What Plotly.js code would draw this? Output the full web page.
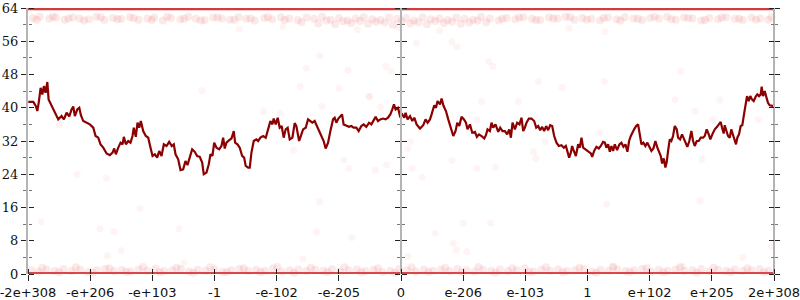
<!DOCTYPE html>
<html>
<head>
<meta charset="utf-8">
<script src="https://cdn.plot.ly/plotly-3.0.1.min.js"></script>
<style>html,body{margin:0;padding:0;background:#fff}#chart{width:800px;height:300px}</style>
</head>
<body>
<div id="chart"></div>
<script>
// ---- data ----
const tickPositions = [-6,-5,-4,-3,-2,-1,0,1,2,3,4,5,6];
const tickLabels = ["-2e+308","-e+206","-e+103","-1","-e-102","-e-205","0","e-206","e-103","1","e+102","e+205","2e+308"];

const lineX = [-5.995,-5.914,-5.873,-5.850,-5.824,-5.797,-5.770,-5.744,-5.717,-5.689,-5.669,-5.620,-5.567,-5.513,-5.460,-5.423,-5.379,-5.336,-5.299,-5.272,-5.246,-5.207,-5.175,-5.149,-5.111,-5.058,-5.005,-4.950,-4.913,-4.870,-4.833,-4.789,-4.736,-4.683,-4.640,-4.613,-4.587,-4.548,-4.511,-4.479,-4.458,-4.426,-4.388,-4.351,-4.319,-4.298,-4.266,-4.238,-4.211,-4.185,-4.147,-4.105,-4.066,-4.029,-3.997,-3.960,-3.922,-3.889,-3.852,-3.815,-3.772,-3.729,-3.687,-3.655,-3.627,-3.584,-3.547,-3.504,-3.467,-3.435,-3.398,-3.359,-3.317,-3.279,-3.237,-3.198,-3.173,-3.129,-3.092,-3.065,-3.033,-3.005,-2.968,
-2.925,-2.888,-2.861,-2.835,-2.808,-2.764,-2.727,-2.690,-2.668,-2.631,-2.594,-2.555,-2.523,-2.498,-2.459,-2.433,-2.406,-2.369,-2.326,-2.298,-2.261,-2.218,-2.176,-2.138,-2.101,-2.068,-2.048,-2.015,-1.983,-1.951,-1.919,-1.887,-1.855,-1.823,-1.790,-1.747,-1.710,-1.683,-1.639,-1.602,-1.575,-1.533,-1.495,-1.458,-1.426,-1.389,-1.350,-1.318,-1.281,-1.244,-1.212,-1.173,-1.136,-1.093,-1.067,-1.040,-1.008,-0.976,-0.948,-0.923,-0.879,-0.836,-0.799,-0.762,-0.718,-0.681,-0.638,-0.601,-0.558,-0.514,-0.477,-0.440,-0.408,-0.370,-0.333,-0.289,-0.248,-0.209,-0.172,-0.140,-0.113,-0.087,-0.048,
-0.016,0.021,0.053,0.074,0.106,0.145,0.182,0.214,0.251,0.305,0.358,0.395,0.428,0.466,0.492,0.535,0.563,0.588,0.627,0.653,0.685,0.723,0.760,0.804,0.841,0.878,0.905,0.937,0.974,1.013,1.045,1.070,1.109,1.146,1.189,1.221,1.254,1.295,1.339,1.366,1.392,1.430,1.456,1.483,1.520,1.564,1.596,1.633,1.671,1.708,1.741,1.768,1.794,1.832,1.869,1.906,1.938,1.966,1.993,2.019,2.057,2.099,2.142,2.175,2.207,2.239,2.271,2.303,2.335,2.367,2.400,2.432,2.464,2.501,2.539,2.581,2.620,2.652,2.678,2.705,2.732,2.753,2.780,2.813,2.850,2.877,2.903,2.930,2.967,
3.010,3.054,3.075,3.107,3.144,3.182,3.214,3.251,3.279,3.304,3.332,3.359,3.385,3.412,3.439,3.476,3.513,3.545,3.578,3.610,3.642,3.669,3.697,3.722,3.750,3.782,3.814,3.841,3.867,3.899,3.931,3.963,4.002,4.028,4.060,4.092,4.124,4.151,4.179,4.200,4.227,4.253,4.275,4.296,4.323,4.349,4.376,4.404,4.436,4.457,4.489,4.521,4.548,4.574,4.606,4.638,4.671,4.698,4.725,4.757,4.789,4.822,4.859,4.886,4.918,4.950,4.976,5.008,5.047,5.084,5.116,5.143,5.164,5.191,5.207,5.233,5.260,5.288,5.313,5.346,5.368,5.389,5.410,5.437,5.464,5.490,5.513,5.538,5.566,5.593,5.619,5.646,5.673,5.706,5.731,5.759,5.786,5.802,5.823,5.850,5.876,5.903,5.930,5.968,6.000];
const lineY = [41.4,41.4,40.4,39.2,41.6,44.8,43.2,45.2,43.6,46.2,42.0,40.6,38.8,37.2,38.0,37.2,38.8,37.9,39.6,40.3,38.0,39.6,40.0,38.2,36.8,36.4,36.0,35.2,33.2,32.8,31.2,30.4,29.0,28.6,29.2,30.2,28.8,30.4,31.6,31.2,33.0,31.2,32.0,31.6,33.2,35.2,33.0,36.4,35.2,36.8,34.4,33.2,32.8,30.4,28.4,28.8,28.0,29.6,28.4,31.2,30.8,31.8,30.8,31.2,28.8,27.6,25.0,25.2,27.2,26.2,28.4,30.0,29.4,28.4,28.2,26.8,24.0,24.4,26.4,28.8,28.4,31.6,30.4,
30.0,30.8,32.8,30.2,31.6,32.2,32.6,34.4,31.6,31.2,30.4,28.4,28.0,26.0,25.6,25.6,29.2,32.0,32.4,32.0,32.8,33.2,32.8,34.8,36.8,36.0,37.4,36.0,37.6,35.2,35.6,32.8,34.8,35.2,32.4,32.8,36.3,35.6,32.0,33.6,34.8,35.2,37.2,36.8,36.4,36.8,35.6,34.4,33.2,32.0,30.2,31.6,34.4,37.2,37.6,36.4,37.4,38.0,38.4,36.0,35.6,35.4,35.6,35.2,35.2,34.4,35.6,36.0,35.4,36.4,36.0,36.8,37.8,36.8,37.2,37.4,37.2,37.6,38.4,39.6,40.8,39.6,40.0,
38.0,38.4,37.6,38.8,37.2,38.0,36.8,37.6,36.0,35.0,35.8,37.2,36.4,37.2,38.4,40.6,40.0,41.6,40.8,42.2,40.4,39.2,37.2,35.2,33.2,34.4,36.4,35.6,37.8,37.2,36.4,34.8,36.0,34.0,34.2,33.0,33.6,33.2,32.6,33.4,34.8,34.4,36.4,35.2,36.0,34.2,35.2,34.4,34.4,33.6,34.8,32.8,36.4,34.8,36.4,36.0,37.6,34.4,35.2,36.4,37.4,37.4,36.8,35.2,35.6,34.6,35.4,34.4,35.6,34.6,35.8,35.6,33.2,31.6,30.8,31.0,30.4,30.8,29.6,28.0,29.2,30.8,29.6,28.4,31.2,30.4,32.8,30.4,30.0,
29.4,29.0,28.2,29.6,30.6,30.2,30.8,31.8,31.6,30.4,31.2,29.4,30.8,29.6,31.2,29.8,31.2,31.6,30.6,31.2,29.4,32.0,33.2,33.8,34.8,35.6,36.0,33.6,31.2,31.6,30.8,31.6,30.6,29.6,30.2,32.0,30.4,29.2,28.4,26.6,27.8,25.6,27.0,29.6,32.4,32.0,33.2,35.6,34.8,32.8,32.4,33.6,32.6,31.6,30.6,32.0,34.4,32.0,30.8,32.0,32.0,32.8,32.8,33.2,34.8,33.6,32.4,33.6,34.8,35.4,36.0,36.6,35.2,33.8,35.8,34.4,33.2,32.8,34.8,33.2,32.0,31.2,32.8,33.6,35.6,35.8,38.0,40.0,42.8,41.6,42.8,42.0,41.6,42.7,43.2,42.8,43.2,45.1,42.8,44.0,42.8,41.2,40.6,40.4,40.4];

const edgeX = [-6, 6];
const topEdgeY = [64, 64];
const bottomEdgeY = [0, 0];

const bandTopX = [-5.92,-5.81,-5.66,-5.55,-5.41,-5.28,-5.17,-5.02,-4.9,-4.77,-4.63,-4.5,-4.36,-4.22,-4.08,-3.97,-3.83,-3.7,-3.55,-3.42,-3.3,-3.16,-3.02,-2.88,-2.75,-2.61,-2.49,-2.35,-2.2,-2.07,-1.93,-1.8,-1.66,-1.52,-1.4,-1.27,-1.13,-1.0,-0.86,-0.73,-0.6,-0.46,-0.33,-0.19,-0.06,0.08,0.21,0.35,0.48,0.62,0.75,0.89,1.02,1.16,1.29,1.43,1.57,1.7,1.84,1.97,2.11,2.24,2.38,2.52,2.65,2.79,2.92,3.06,3.2,3.33,3.47,3.6,3.74,3.88,4.01,4.15,4.28,4.42,4.55,4.69,4.83,4.96,5.1,5.23,5.37,5.5,5.64,5.78,5.91,
-5.86,-5.6,-5.35,-5.1,-4.83,-4.56,-4.3,-4.01,-3.76,-3.49,-3.22,-2.95,-2.68,-2.42,-2.14,-1.87,-1.6,-1.33,-1.2,-1.06,-0.93,-0.8,-0.66,-0.53,-0.4,-0.26,-0.13,0.01,0.15,0.28,0.42,0.55,0.69,0.82,0.96,1.1,1.23,1.37,1.63,1.9,2.17,2.45,2.72,2.99,3.26,3.53,3.81,4.08,4.35,4.62,4.89,5.16,5.44,5.71,5.96];
const bandTopY = [61.6,61.9,61.4,61.7,61.2,61.8,61.5,61.3,61.9,61.1,61.6,61.4,61.8,61.2,61.5,61.7,61.0,61.6,61.3,61.9,61.4,61.1,61.7,61.5,61.2,61.8,61.4,61.0,61.6,61.3,61.8,61.5,61.1,61.7,61.4,61.9,61.2,61.6,61.0,61.5,61.8,61.3,61.1,61.7,61.4,61.6,61.0,61.8,61.3,61.5,61.1,61.7,61.4,61.2,61.9,61.5,61.0,61.6,61.3,61.8,61.4,61.1,61.7,61.5,61.9,61.2,61.6,61.4,61.0,61.7,61.3,61.8,61.5,61.1,61.6,61.4,61.9,61.2,61.7,61.5,61.0,61.6,61.3,61.8,61.4,61.1,61.7,61.5,61.2,
61.2,61.9,61.5,61.0,61.8,61.3,61.6,61.1,61.9,61.4,61.0,61.7,61.2,61.5,61.8,61.1,60.6,60.3,61.0,60.1,60.8,60.4,60.9,60.2,60.7,60.5,60.0,60.8,60.3,60.6,60.1,60.9,60.4,60.7,60.2,60.5,61.0,60.6,61.4,61.7,61.1,61.5,61.8,61.2,61.6,61.0,61.4,61.9,61.3,61.6,61.1,61.7,61.4,61.2,61.8];

const bandBotX = [-5.95,-5.83,-5.7,-5.57,-5.43,-5.3,-5.16,-5.03,-4.89,-4.76,-4.62,-4.49,-4.35,-4.22,-4.08,-3.95,-3.81,-3.68,-3.54,-3.41,-3.27,-3.14,-3.0,-2.87,-2.73,-2.6,-2.46,-2.33,-2.19,-2.06,-1.92,-1.79,-1.65,-1.52,-1.38,-1.25,-1.11,-0.98,-0.84,-0.71,-0.57,-0.44,-0.3,-0.17,-0.03,0.1,0.24,0.37,0.51,0.64,0.78,0.91,1.05,1.18,1.32,1.45,1.59,1.72,1.86,1.99,2.13,2.26,2.4,2.53,2.67,2.8,2.94,3.07,3.21,3.34,3.48,3.61,3.75,3.88,4.02,4.15,4.29,4.42,4.56,4.69,4.83,4.96,5.1,5.23,5.37,5.5,5.64,5.77,5.91,
-5.77,-5.5,-5.23,-4.96,-4.69,-4.42,-4.15,-3.88,-3.61,-3.34,-3.07,-2.8,-2.53,-2.26,-1.99,-1.72,-1.45,-1.18,-0.91,-0.64,-0.37,-0.1,0.17,0.44,0.71,0.98,1.25,1.52,1.79,2.06,2.33,2.6,2.87,3.14,3.41,3.68,3.95,4.22,4.49,4.76,5.03,5.3,5.57,5.84];
const bandBotY = [0.9,0.6,1.1,0.8,1.2,0.7,1.0,0.5,0.9,1.2,0.7,1.0,0.6,1.1,0.8,1.3,0.7,0.9,1.2,0.6,1.0,0.8,1.1,0.5,0.9,1.2,0.7,1.0,0.8,1.3,0.6,0.9,1.1,0.7,1.0,0.8,1.2,0.6,0.9,1.1,0.7,1.0,0.5,0.8,1.2,0.9,0.6,1.1,0.8,1.0,0.7,1.2,0.9,0.6,1.0,0.8,1.1,0.7,0.9,1.3,0.6,1.0,0.8,1.1,0.7,0.9,1.2,0.6,1.0,0.8,1.1,0.7,0.9,1.2,0.6,1.0,0.8,1.1,0.7,0.9,1.2,0.6,1.0,0.8,1.1,0.7,0.9,1.2,0.8,
1.5,0.4,1.6,0.3,1.4,0.5,1.7,0.4,1.5,0.3,1.6,0.5,1.4,0.4,1.7,0.3,1.5,0.5,1.6,0.4,1.4,0.3,1.6,0.5,1.5,0.4,1.7,0.3,1.4,0.5,1.6,0.4,1.5,0.3,1.7,0.5,1.4,0.4,1.6,0.3,1.5,0.5,1.4,0.4];

const sparseX = [-5.79,-4.84,-4.62,-4.72,-4.5,-4.2,-3.57,-3.49,-1.36,-0.79,-1.58,0.11,0.55,0.84,1.0,0.89,1.06,1.44,-1.31,3.31,5.5,4.53,3.42,4.81,5.96,3.28,4.5,3.27,-1.31,-1.52,-0.85,-0.24,-0.16,0.25,1.41,1.48,-1.0,-0.5,0.9,0.82,-3.2,-1.62,-0.52,-0.33,-2.21,-1.94,-1.73,-0.92,-0.84,-0.23,-0.41,-4.74,-5.21,-1.27,-5.5,2.21,2.59,1.3,1.89,1.22,4.41,5.13,4.73,5.02,5.75,3.2,0.15,0.11,2.32,2.13,2.17,0.82,1.22,1.52,4.84,0.18,0.34,-0.7,-0.05,0.62,-1.9,2.7,-2.6];
const sparseY = [12.6,10.9,10.2,4.4,5.6,15.8,10.9,2.7,10.1,8.8,3.6,4.2,9.8,7.4,12.2,5.8,5.4,12.3,17.4,16.8,4.0,1.9,1.8,17.6,6.6,58.3,48.7,46.4,52.5,49.5,49.1,49.9,48.7,55.5,51.1,49.9,44.7,42.7,54.7,55.9,44.1,45.2,42.7,40.1,39.1,38.7,29.8,27.4,25.4,26.2,25.0,23.0,24.0,40.3,35.9,46.3,44.9,41.5,41.5,37.1,41.9,41.9,39.1,37.1,37.1,33.9,31.9,30.2,31.9,29.4,27.8,27.3,25.4,25.7,27.6,25.4,23.3,58.8,59.3,58.5,59.6,59.1,58.9];

// ---- chart ----
const red = 'rgba(230,40,40,0.10)';
const traces = [
  {x: bandTopX, y: bandTopY, mode: 'markers', type: 'scatter', cliponaxis: false,
   marker: {size: 8, color: red}, hoverinfo: 'skip'},
  {x: bandBotX, y: bandBotY, mode: 'markers', type: 'scatter', cliponaxis: false,
   marker: {size: 8, color: red}, hoverinfo: 'skip'},
  {x: sparseX, y: sparseY, mode: 'markers', type: 'scatter', cliponaxis: false,
   marker: {size: 7, color: 'rgba(230,60,60,0.06)'}, hoverinfo: 'skip'},
  {x: edgeX, y: topEdgeY, mode: 'lines', type: 'scatter', cliponaxis: false,
   line: {color: '#d43c3c', width: 4.5}, hoverinfo: 'skip'},
  {x: edgeX, y: bottomEdgeY, mode: 'lines', type: 'scatter', cliponaxis: false,
   line: {color: '#d84848', width: 4}, hoverinfo: 'skip'},
  {x: lineX, y: lineY, mode: 'lines', type: 'scatter',
   line: {color: '#8b0000', width: 2.2}, hoverinfo: 'skip'}
];
['y2','y3','y4','y5','y6'].forEach(a => traces.push({x: [], y: [], yaxis: a, type: 'scatter', mode: 'lines', showlegend: false, hoverinfo: 'skip'}));
traces.push({x: [], y: [], xaxis: 'x2', type: 'scatter', mode: 'lines', showlegend: false, hoverinfo: 'skip'});

function yax(extra) {
  return Object.assign({
    range: [0, 64], autorange: false, tick0: 0, dtick: 8,
    ticks: 'outside', ticklen: 5, tickwidth: 1, tickcolor: '#222',
    minor: {ticks: 'outside', ticklen: 3, dtick: 4, tick0: 0, tickcolor: '#777', tickwidth: 1},
    showgrid: false, zeroline: false, showline: false, showticklabels: false,
    fixedrange: true
  }, extra);
}
const axisGray = '#b4b4b4';
const layout = {
  width: 800, height: 300,
  margin: {l: 28, r: 26, t: 8, b: 26, pad: 0},
  paper_bgcolor: '#fff', plot_bgcolor: '#fff',
  showlegend: false,
  xaxis: {
    range: [-6, 6], autorange: false, tickmode: 'array', tickvals: tickPositions, ticktext: tickLabels,
    ticks: 'outside', ticklen: 6, tickwidth: 1, tickcolor: '#222', ticklabeloverflow: 'allow',
    showgrid: false, zeroline: false, showline: false,
    tickfont: {family: 'DejaVu Sans', size: 13, color: '#111'}, fixedrange: true
  },
  xaxis2: {
    overlaying: 'x', side: 'top', anchor: 'free', position: 0,
    range: [-6, 6], autorange: false, tickmode: 'array', tickvals: tickPositions,
    ticks: 'outside', ticklen: 5, tickwidth: 1, tickcolor: '#222',
    showticklabels: false, showgrid: false, zeroline: false, showline: false, fixedrange: true
  },
  yaxis: yax({side: 'left', showline: true, linecolor: axisGray, linewidth: 2, showticklabels: true,
              tickfont: {family: 'DejaVu Serif', size: 13, color: '#111'}}),
  yaxis2: yax({overlaying: 'y', side: 'right', anchor: 'free', position: 0}),
  yaxis3: yax({overlaying: 'y', side: 'left', anchor: 'free', position: 0.5, showline: true, linecolor: axisGray, linewidth: 2}),
  yaxis4: yax({overlaying: 'y', side: 'right', anchor: 'free', position: 0.5}),
  yaxis5: yax({overlaying: 'y', side: 'right', anchor: 'free', position: 1, showline: true, linecolor: axisGray, linewidth: 2}),
  yaxis6: yax({overlaying: 'y', side: 'left', anchor: 'free', position: 1})
};
Plotly.newPlot('chart', traces, layout, {staticPlot: true, displayModeBar: false});
</script>
</body>
</html>
